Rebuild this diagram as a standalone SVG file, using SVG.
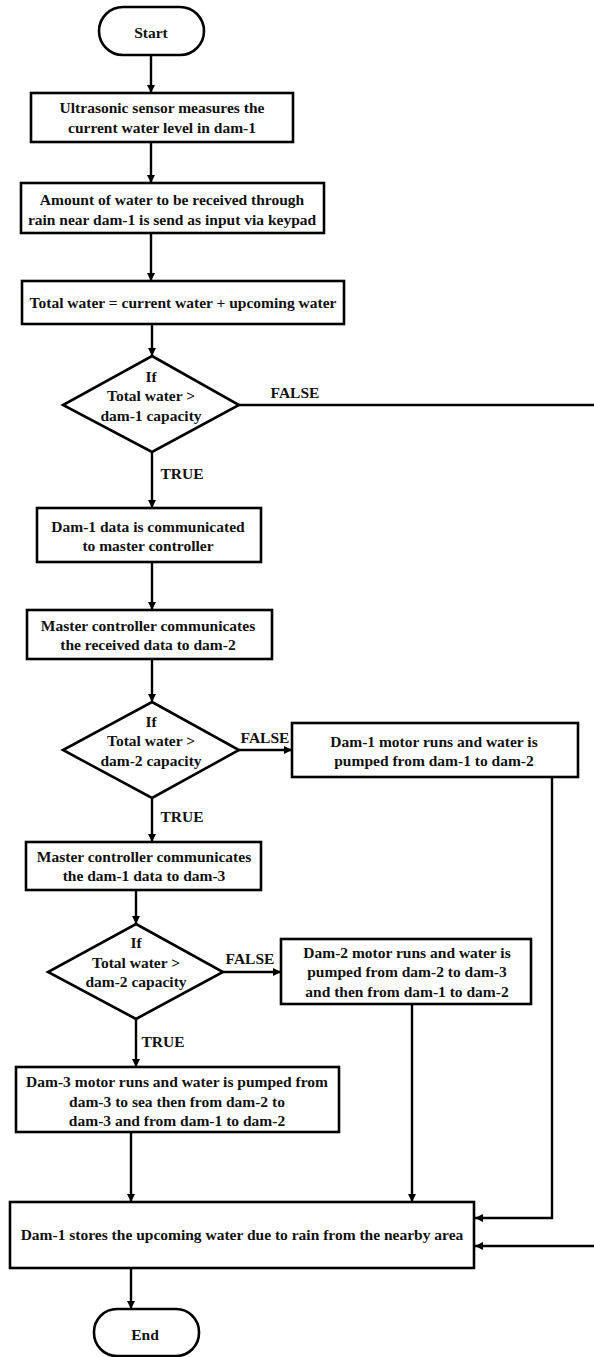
<svg xmlns="http://www.w3.org/2000/svg" width="594" height="1357" viewBox="0 0 594 1357" font-family="Liberation Serif, serif" font-weight="bold" font-size="15.5" text-anchor="middle">
<defs>
<marker id="ah" markerUnits="userSpaceOnUse" markerWidth="9" markerHeight="8" refX="8" refY="4" orient="auto">
<path d="M0,0 L8,4 L0,8 Z" fill="#000"/>
</marker>
</defs>
<style>
.s{fill:#fff;stroke:#000;stroke-width:2.6}
.c{fill:none;stroke:#000;stroke-width:2.4;marker-end:url(#ah)}
text{fill:#111}
</style>
<rect width="594" height="1357" fill="#fff"/>
<g id="connectors">
<path class="c" d="M151,55 V93"/>
<path class="c" d="M151,142 V183"/>
<path class="c" d="M151,233 V281"/>
<path class="c" d="M152,324 V356"/>
<path class="c" d="M239,405 H600 V1246 H475"/>
<path class="c" d="M152,452 V508"/>
<path class="c" d="M152,562 V610"/>
<path class="c" d="M152,659 V702"/>
<path class="c" d="M239,750 H292"/>
<path class="c" d="M152,798 V842"/>
<path class="c" d="M136,890 V924"/>
<path class="c" d="M223,972 H281"/>
<path class="c" d="M136,1019 V1067"/>
<path class="c" d="M131,1132 V1202"/>
<path class="c" d="M412,1004 V1202"/>
<path class="c" d="M552,777 V1218 H475"/>
<path class="c" d="M131,1268 V1309"/>
<text x="295" y="398">FALSE</text>
<text x="182" y="479">TRUE</text>
<text x="265" y="743">FALSE</text>
<text x="182" y="822">TRUE</text>
<text x="250" y="964">FALSE</text>
<text x="163" y="1047">TRUE</text>
</g>
<g id="start">
<rect class="s" x="99" y="7" width="105" height="48" rx="24"/>
<text x="151" y="38">Start</text>
</g>
<g id="measure">
<rect class="s" x="31" y="93" width="262" height="49"/>
<text x="162" y="113">Ultrasonic sensor measures the</text>
<text x="162" y="133">current water level in dam-1</text>
</g>
<g id="input">
<rect class="s" x="21" y="183" width="303" height="50"/>
<text x="172" y="205">Amount of water to be received through</text>
<text x="172" y="225">rain near dam-1 is send as input via keypad</text>
</g>
<g id="total">
<rect class="s" x="22" y="281" width="322" height="43"/>
<text x="183" y="308">Total water = current water + upcoming water</text>
</g>
<g id="decision1">
<path class="s" d="M152,356 L239,405 L152,452 L63,405 Z"/>
<text x="151" y="382">If</text>
<text x="151" y="401">Total water &gt;</text>
<text x="151" y="421">dam-1 capacity</text>
</g>
<g id="comm1">
<rect class="s" x="37" y="508" width="224" height="54"/>
<text x="148" y="532">Dam-1 data is communicated</text>
<text x="148" y="551">to master controller</text>
</g>
<g id="comm2">
<rect class="s" x="27" y="610" width="245" height="49"/>
<text x="148" y="631">Master controller communicates</text>
<text x="148" y="650">the received data to dam-2</text>
</g>
<g id="decision2">
<path class="s" d="M152,702 L239,750 L152,798 L63,750 Z"/>
<text x="151" y="727">If</text>
<text x="151" y="746">Total water &gt;</text>
<text x="151" y="766">dam-2 capacity</text>
</g>
<g id="pump1">
<rect class="s" x="292" y="723" width="286" height="54"/>
<text x="434" y="747">Dam-1 motor runs and water is</text>
<text x="434" y="766">pumped from dam-1 to dam-2</text>
</g>
<g id="comm3">
<rect class="s" x="26" y="842" width="235" height="48"/>
<text x="144" y="862">Master controller communicates</text>
<text x="144" y="881">the dam-1 data to dam-3</text>
</g>
<g id="decision3">
<path class="s" d="M136,924 L223,972 L136,1019 L48,972 Z"/>
<text x="136" y="948">If</text>
<text x="136" y="968">Total water &gt;</text>
<text x="136" y="987">dam-2 capacity</text>
</g>
<g id="pump2">
<rect class="s" x="281" y="939" width="250" height="65"/>
<text x="407" y="958">Dam-2 motor runs and water is</text>
<text x="407" y="977">pumped from dam-2 to dam-3</text>
<text x="407" y="997">and then from dam-1 to dam-2</text>
</g>
<g id="pump3">
<rect class="s" x="16" y="1067" width="323" height="65"/>
<text x="177" y="1087">Dam-3 motor runs and water is pumped from</text>
<text x="177" y="1107">dam-3 to sea then from dam-2 to</text>
<text x="177" y="1126">dam-3 and from dam-1 to dam-2</text>
</g>
<g id="store">
<rect class="s" x="10" y="1202" width="464" height="66"/>
<text x="242" y="1240">Dam-1 stores the upcoming water due to rain from the nearby area</text>
</g>
<g id="end">
<rect class="s" x="94" y="1309" width="105" height="47" rx="23"/>
<text x="145" y="1340">End</text>
</g>
</svg>
